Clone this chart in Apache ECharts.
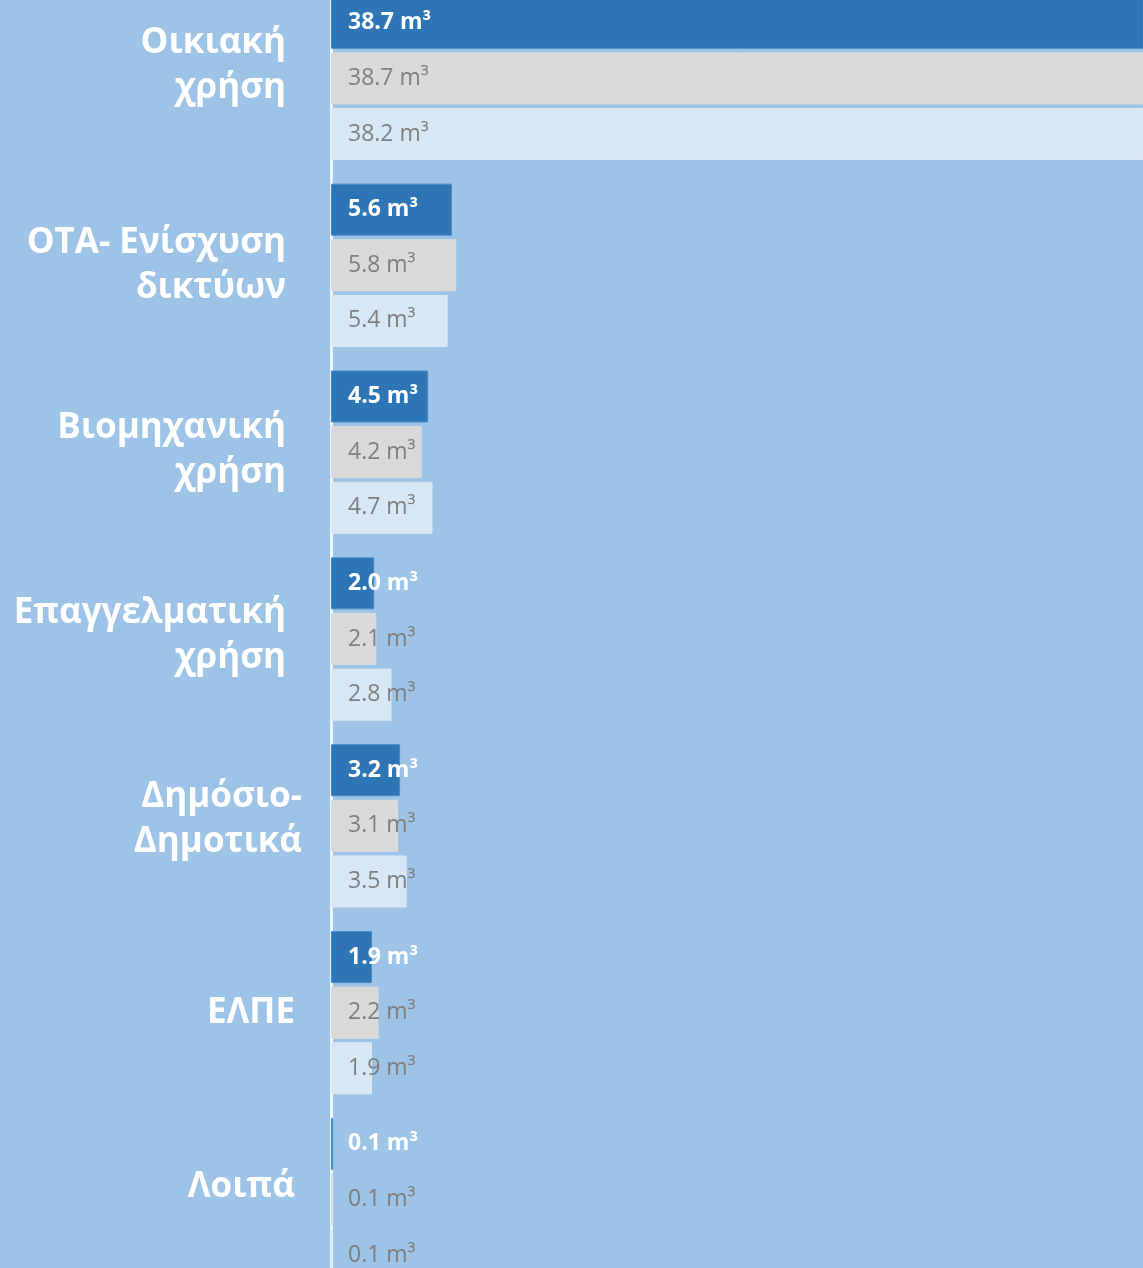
<!DOCTYPE html>
<html lang="el">
<head>
    <meta charset="UTF-8">
    <title>Κατανάλωση νερού ανά χρήση</title>
    <script type="text/javascript" src="https://cdn.jsdelivr.net/npm/echarts@6/dist/echarts.min.js"></script>
    <style>
        html, body { margin: 0; padding: 0; background: #9DC3E6; overflow: hidden; }
        /* το γράφημα είναι "κομμένο" πάνω και κάτω, όπως στο πρωτότυπο */
        #chart { position: absolute; left: 0; top: -15px; width: 1143px; height: 1308px; }
    </style>
</head>
<body>
    <div id="chart"></div>
<script>
// κατηγορίες (από πάνω προς τα κάτω)
var categories = ['Οικιακή\nχρήση', 'ΟΤΑ- Ενίσχυση\nδικτύων', 'Βιομηχανική\nχρήση', 'Επαγγελματική\nχρήση', 'Δημόσιο-\nΔημοτικά', 'ΕΛΠΕ', 'Λοιπά'];

// τρεις σειρές τιμών (m³)
var seriesA = [38.7, 5.6, 4.5, 2.0, 3.2, 1.9, 0.1];
var seriesB = [38.7, 5.8, 4.2, 2.1, 3.1, 2.2, 0.1];
var seriesC = [38.2, 5.4, 4.7, 2.8, 3.5, 1.9, 0.1];

var unit = ' m³';

// μικρές διορθώσεις θέσης των ετικετών (όπως στο πρωτότυπο)
var padRight = [16, 16, 16, 16, 0, 7, 7];
var lift = [13, 0, 2, 3, 6, 0, 13];

var myChart = echarts.init(document.getElementById('chart'));

// rich στυλ για κάθε ετικέτα: εσοχή δεξιά + κενή γραμμή για ανύψωση
var rich = {};
categories.forEach(function (c, i) {
    rich['t' + i] = { padding: [0, padRight[i], 0, 0], lineHeight: 45 };
    rich['s' + i] = { fontSize: 2, lineHeight: lift[i] * 2, height: lift[i] * 2 };
});

function barSeries(name, data, color, borderColor, labelColor, bold) {
    return {
        name: name,
        type: 'bar',
        data: data,
        barWidth: 52,
        barGap: '7%',
        clip: true,
        itemStyle: {
            color: color,
            borderColor: borderColor,
            borderWidth: 1
        },
        label: {
            show: true,
            position: [17, '50%'],
            align: 'left',
            verticalAlign: 'middle',
            color: labelColor,
            fontFamily: 'Open Sans',
            fontWeight: bold ? 'bold' : 'normal',
            fontSize: 23,
            formatter: function (p) { return p.value.toFixed(1) + unit; }
        }
    };
}

var option = {
    backgroundColor: '#9DC3E6',
    animation: false,
    grid: { left: 331, right: 0, top: 0, bottom: 0 },
    xAxis: {
        type: 'value',
        min: 0,
        max: 37.6,
        show: false
    },
    yAxis: {
        type: 'category',
        inverse: true,
        offset: 4,
        data: categories,
        axisLine: { show: true, lineStyle: { color: '#ffffff', width: 2.5 } },
        axisTick: { show: false },
        axisLabel: {
            margin: 25,
            color: '#ffffff',
            fontFamily: 'Open Sans',
            fontWeight: 'bold',
            fontSize: 35,
            lineHeight: 45,
            align: 'right',
            rich: rich,
            formatter: function (value, i) {
                var s = value.split('\n').map(function (l) {
                    return '{t' + i + '|' + l + '}';
                }).join('\n');
                if (lift[i] > 0) s += '\n{s' + i + '| }';
                return s;
            }
        }
    },
    series: [
        barSeries('A', seriesA, '#2E75B6', '#4A8AC6', '#ffffff', true),
        barSeries('B', seriesB, '#D9D9D9', '#DCDCDC', '#7F7F7F', false),
        barSeries('C', seriesC, '#D8E7F5', '#DCE9F6', '#7F7F7F', false)
    ]
};

myChart.setOption(option);
</script>
</body>
</html>
